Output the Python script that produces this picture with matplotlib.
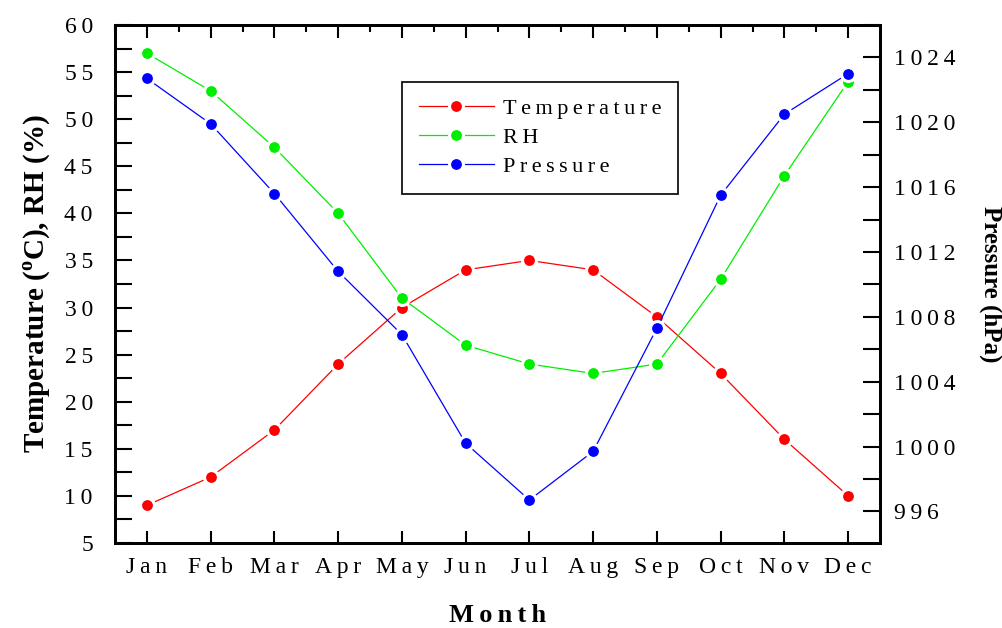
import numpy as np
import matplotlib
matplotlib.use("Agg")
import matplotlib.pyplot as plt
from matplotlib.ticker import MultipleLocator, FuncFormatter

months = ["Jan", "Feb", "Mar", "Apr", "May", "Jun", "Jul", "Aug", "Sep", "Oct", "Nov", "Dec"]
temperature = [9, 12, 17, 24, 30, 34, 35, 34, 29, 23, 16, 10]
rh = [57, 53, 47, 40, 31, 26, 24, 23, 24, 33, 44, 54]
pressure = [1022.7, 1019.9, 1015.6, 1010.8, 1006.9, 1000.2, 996.7, 999.7, 1007.3, 1015.5, 1020.5, 1023.0]

plt.rcParams['font.family'] = ['Liberation Serif', 'DejaVu Serif']
plt.rcParams['mathtext.fontset'] = 'custom'
plt.rcParams['mathtext.rm'] = 'Liberation Serif'
plt.rcParams['mathtext.bf'] = 'Liberation Serif:bold'

SP = '\u2009'  # thin space, mimics the wide letter spacing of the original


def spaced(s):
    return SP.join(s)


fig = plt.figure(figsize=(10.03, 6.28), dpi=100)
ax = fig.add_axes([0.1147, 0.1354, 0.7627, 0.8248])
ax2 = ax.twinx()

x = np.arange(1, 13)
style = dict(marker='o', markersize=10, linewidth=0.9, markeredgecolor='white', markeredgewidth=2.2)
l1, = ax.plot(x, temperature, color='#ff0000', **style)
l2, = ax.plot(x, rh, color='#00ee00', **style)
l3, = ax2.plot(x, pressure, color='#0000ff', **style)

ax.set_xlim(0.5, 12.5)
ax.set_ylim(5, 60)

ax.set_xticks(x)
ax.set_xticklabels([spaced(m) for m in months])
ax.yaxis.set_major_locator(MultipleLocator(5))
ax.yaxis.set_minor_locator(MultipleLocator(2.5))
ax.yaxis.set_major_formatter(FuncFormatter(lambda v, p: spaced('%d' % v)))
ax2.yaxis.set_major_locator(MultipleLocator(4))
ax2.yaxis.set_minor_locator(MultipleLocator(2))
ax2.yaxis.set_major_formatter(FuncFormatter(lambda v, p: spaced('%d' % v)))
ax2.set_ylim(994.05, 1026)

for a in (ax, ax2):
    for s in a.spines.values():
        s.set_linewidth(2)

ax.tick_params(axis='y', which='both', direction='in', length=12, width=1.5, labelsize=17, pad=16)
ax.tick_params(axis='x', which='major', direction='in', length=9, width=1.5, labelsize=17, pad=10,
               top=False)
ax2.tick_params(axis='y', which='both', direction='in', length=12, width=1.5, labelsize=17, pad=10)

# top spine: month ticks plus short ticks between months
top = ax.secondary_xaxis('top')
top.set_xticks(x)
top.set_xticklabels([])
top.set_xticks(x - 0.5, minor=True)
top.tick_params(which='major', direction='in', length=9, width=1.5)
top.tick_params(which='minor', direction='in', length=5, width=1.5)
top.spines['top'].set_linewidth(2)

ax.set_xlabel(spaced('Month'), fontsize=19, fontweight='bold', labelpad=19)
ax.set_ylabel(r'Temperature ($^\mathregular{o}$C), RH (%)', fontsize=21, fontweight='bold', labelpad=8)
ax2.set_ylabel('Pressure (hPa)', fontsize=18, fontweight='bold', rotation=270, labelpad=34)

leg = ax.legend([l1, l2, l3], [spaced('Temperature'), spaced('RH'), spaced('Pressure')],
                loc='upper left', bbox_to_anchor=(0.375, 0.89), borderaxespad=0,
                fancybox=False, edgecolor='black', fontsize=16, handlelength=3.4,
                handletextpad=0.4, borderpad=0.75, labelspacing=0.38, framealpha=1)
leg.get_frame().set_linewidth(1.2)

fig.savefig('out.png', dpi=100)
